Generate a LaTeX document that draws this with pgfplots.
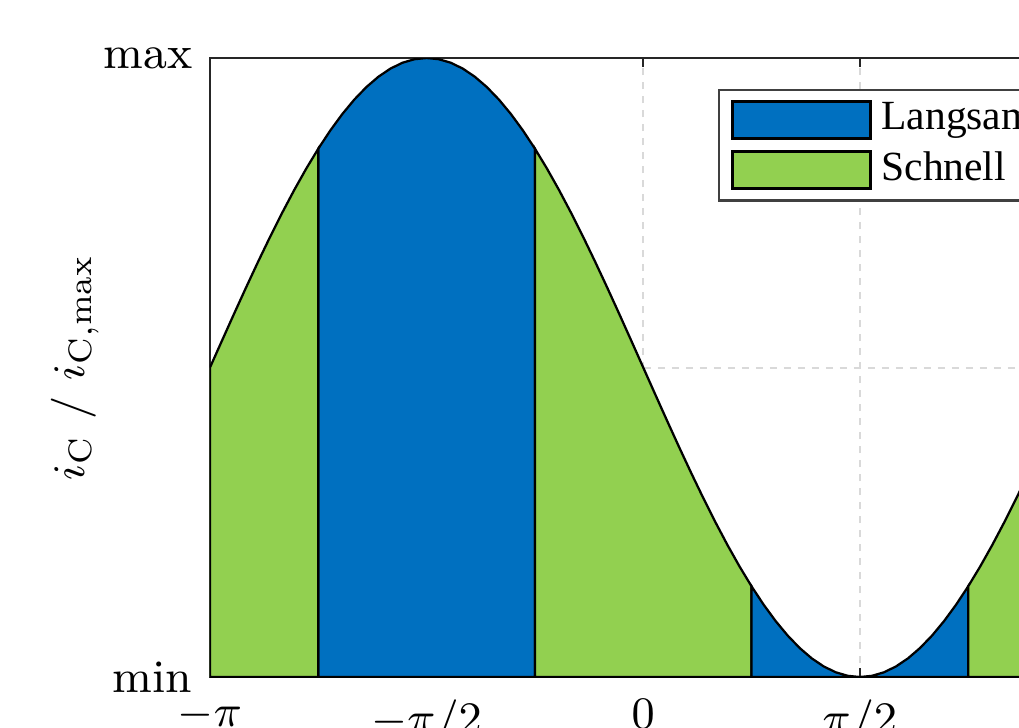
\documentclass[border=0pt]{standalone}
\usepackage{fontspec}
\usepackage{pgfplots}
\pgfplotsset{compat=1.18}
\newfontfamily\legendfont{Liberation Serif}
\definecolor{langsam}{RGB}{0,112,192}
\definecolor{schnell}{RGB}{146,208,80}
\begin{document}
\begin{tikzpicture}
\begin{axis}[
    scale only axis,
    width=173.3pt, height=123.8pt,
    xmin=-180, xmax=180, ymin=0, ymax=1,
    xtick={-180,-90,0,90,180},
    xticklabels={$-\pi$,$-\pi/2$,$0$,$\pi/2$,$\pi$},
    ytick={0,0.5,1},
    yticklabels={$\mathrm{min}$,{},$\mathrm{max}$},
    tick label style={font=\fontsize{9.3pt}{11pt}\selectfont},
    xticklabel style={yshift=-1pt},
    tick align=inside,
    major tick length=1.8pt,
    tick style={black!85, line width=0.4pt},
    axis line style={black!85, line width=0.5pt},
    grid=major,
    grid style={dash pattern=on 1.4pt off 1.4pt, black!15, line width=0.4pt},
    ylabel={$i_\mathrm{C}\ /\ i_{\mathrm{C,max}}$},
    ylabel style={at={(axis description cs:-0.156,0.5)}, anchor=center,
        font=\fontsize{9.3pt}{11pt}\selectfont},
    legend style={at={(axis description cs:0.586,0.950)}, anchor=north west,
        draw=black!75, line width=0.5pt, font=\legendfont\fontsize{8.3pt}{9.7pt}\selectfont,
        inner xsep=2.4pt, inner ysep=0.5pt, row sep=-1.1pt, cells={anchor=west}},
    legend image code/.code={\draw[#1, line width=0.5pt] (0pt,-3.7pt) rectangle (27.6pt,3.7pt);},
]
% Langsam
\addplot[fill=langsam, draw=black, line width=0.45pt] coordinates {
(-135,0.85355) (-130,0.88302) (-125,0.90958) (-120,0.93301) (-115,0.95315)
(-110,0.96985) (-105,0.98296) (-100,0.99240) (-95,0.99810) (-90,1)
(-85,0.99810) (-80,0.99240) (-75,0.98296) (-70,0.96985) (-65,0.95315)
(-60,0.93301) (-55,0.90958) (-50,0.88302) (-45,0.85355)} \closedcycle;
\addlegendentry{Langsam}
% Schnell
\addplot[fill=schnell, draw=black, line width=0.45pt] coordinates {
(-180,0.5) (-175,0.54358) (-170,0.58682) (-165,0.62941) (-160,0.67101)
(-155,0.71131) (-150,0.75) (-145,0.78679) (-140,0.82139) (-135,0.85355)} \closedcycle;
\addlegendentry{Schnell}
\addplot[fill=schnell, draw=black, line width=0.45pt, forget plot] coordinates {
(-45,0.85355) (-40,0.82139) (-35,0.78679) (-30,0.75) (-25,0.71131)
(-20,0.67101) (-15,0.62941) (-10,0.58682) (-5,0.54358) (0,0.5)
(5,0.45642) (10,0.41318) (15,0.37059) (20,0.32899) (25,0.28869)
(30,0.25) (35,0.21321) (40,0.17861) (45,0.14645)} \closedcycle;
\addplot[fill=langsam, draw=black, line width=0.45pt, forget plot] coordinates {
(45,0.14645) (50,0.11698) (55,0.09042) (60,0.06699) (65,0.04685)
(70,0.03015) (75,0.01704) (80,0.00760) (85,0.00190) (90,0)
(95,0.00190) (100,0.00760) (105,0.01704) (110,0.03015) (115,0.04685)
(120,0.06699) (125,0.09042) (130,0.11698) (135,0.14645)} \closedcycle;
\addplot[fill=schnell, draw=black, line width=0.45pt, forget plot] coordinates {
(135,0.14645) (140,0.17861) (145,0.21321) (150,0.25) (155,0.28869)
(160,0.32899) (165,0.37059) (170,0.41318) (175,0.45642) (180,0.5)} \closedcycle;
\end{axis}
\pgfresetboundingbox
\path[use as bounding box] ([shift={(-42pt,-10pt)}]current axis.south west) rectangle ++(203.8pt,145.4pt);
\end{tikzpicture}
\end{document}
